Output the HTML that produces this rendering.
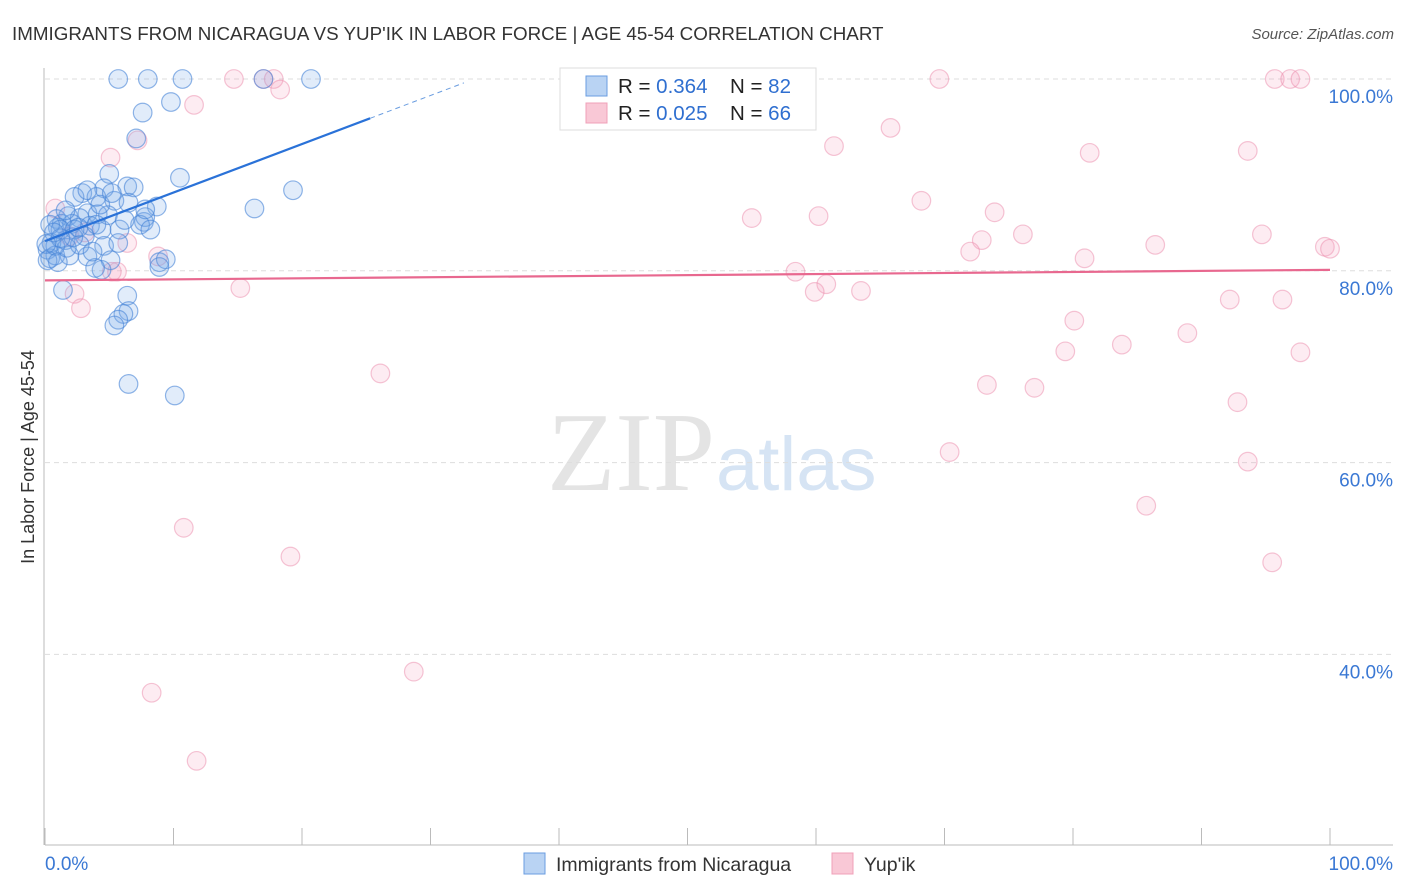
<!DOCTYPE html>
<html><head><meta charset="utf-8"><style>
body{margin:0;background:#fff;width:1406px;height:892px;overflow:hidden;font-family:"Liberation Sans",sans-serif}
svg{position:absolute;left:0;top:0}
</style></head><body>
<svg id="chart" width="1406" height="892">
<text x="12" y="40" font-size="18.8" fill="#333">IMMIGRANTS FROM NICARAGUA VS YUP'IK IN LABOR FORCE | AGE 45-54 CORRELATION CHART</text>
<text x="1394" y="39" font-size="15" fill="#555" font-style="italic" text-anchor="end">Source: ZipAtlas.com</text>
<text x="715" y="490" font-size="112" fill="#e4e4e4" text-anchor="end" font-family="Liberation Serif,serif">ZIP</text>
<text x="716" y="490" font-size="76" fill="#d6e4f4">atlas</text>
<text transform="translate(34,457) rotate(-90)" font-size="18" fill="#333" text-anchor="middle">In Labor Force | Age 45-54</text>
<g id="grid"></g><g id="axes"></g><g id="pts"></g><g id="lines"></g>
<g>
<rect x="560" y="68" width="256" height="62" fill="#fff" stroke="#ddd"/>
<rect x="586" y="76" width="21" height="20" fill="#b9d3f3" stroke="#6a9de0"/>
<rect x="586" y="103" width="21" height="20" fill="#f9c8d6" stroke="#f0a0b8"/>
<text x="618" y="93" font-size="20.5" fill="#222">R = <tspan fill="#2f6fd0">0.364</tspan><tspan x="730">N = </tspan><tspan fill="#2f6fd0">82</tspan></text>
<text x="618" y="120" font-size="20.5" fill="#222">R = <tspan fill="#2f6fd0">0.025</tspan><tspan x="730">N = </tspan><tspan fill="#2f6fd0">66</tspan></text>
</g>
<g>
<rect x="524" y="853" width="21" height="21" fill="#b9d3f3" stroke="#6a9de0"/>
<text x="556" y="871" font-size="19.5" fill="#333">Immigrants from Nicaragua</text>
<rect x="832" y="853" width="21" height="21" fill="#f9c8d6" stroke="#f0a0b8"/>
<text x="864" y="871" font-size="19.5" fill="#333">Yup'ik</text>
</g>
</svg>
<script>
const yTicks=[100,80,60,40];
const yTickLabels=["100.0%","80.0%","60.0%","40.0%"];
const xTicks=[0,10,20,30,40,50,60,70,80,90,100];
const blueX=[5.7,8.0,10.7,17.0,20.7,9.8,7.6,7.1,10.5,19.3,16.3,5.0,6.4,4.6,6.9,2.9,2.3,4.0,5.4,6.5,8.7,3.3,4.1,1.8,0.9,2.7,1.3,2.1,3.5,7.7,5.8,4.4,3.1,1.0,1.6,0.5,0.2,0.4,0.8,1.9,3.3,4.6,5.7,5.1,4.4,8.9,9.4,8.9,1.4,6.4,6.5,6.1,5.7,5.4,6.5,10.1,1.2,2.3,0.2,7.8,0.8,2.7,3.9,4.9,7.4,3.7,1.6,6.2,4.3,0.4,1.0,1.7,2.2,5.2,7.8,3.3,1.2,8.2,0.7,2.6,4.0,0.1];
const blueY=[100,100,100,100,100,97.6,96.5,93.8,89.7,88.4,86.5,90.1,88.8,88.6,88.7,88.1,87.7,87.7,87.3,87.1,86.7,86.0,85.9,85.7,85.4,85.5,84.9,84.9,84.7,85.1,84.3,84.3,83.6,84.5,83.2,82.9,82.2,81.3,81.6,81.6,81.5,82.6,82.9,81.1,80.1,80.9,81.2,80.4,78.0,77.4,75.8,75.5,74.9,74.3,68.2,67.0,84.3,84.3,81.1,85.6,82.6,82.7,80.3,85.8,84.8,82.0,86.3,85.3,86.9,84.8,80.9,82.4,83.5,88.1,86.4,88.4,83.4,84.3,84.0,84.5,84.8,82.8];
const pinkX=[17.0,14.7,17.8,18.3,11.6,5.1,7.2,0.8,3.1,6.4,5.6,5.2,8.8,2.3,2.8,15.2,26.1,10.8,19.1,8.3,28.7,11.8,69.6,95.7,96.9,97.7,65.8,61.4,81.3,93.6,68.2,55.0,60.2,73.9,76.1,72.9,72.0,86.4,94.7,99.6,100,80.9,58.4,60.8,59.9,63.5,92.2,96.3,80.1,79.4,83.8,88.9,97.7,73.3,77.0,92.8,70.4,93.6,85.7,95.5,1.9];
const pinkY=[100,100,100,98.9,97.3,91.8,93.6,86.5,84.0,82.9,79.9,79.9,81.5,77.6,76.1,78.2,69.3,53.2,50.2,36.0,38.2,28.9,100,100,100,100,94.9,93.0,92.3,92.5,87.3,85.5,85.7,86.1,83.8,83.2,82.0,82.7,83.8,82.5,82.3,81.3,79.9,78.6,77.8,77.9,77.0,77.0,74.8,71.6,72.3,73.5,71.5,68.1,67.8,66.3,61.1,60.1,55.5,49.6,83.6];
const blueTrend=[83.1,0.506];
const pinkTrend=[79.0,0.011];
const X=v=>45+v*12.85, Y=v=>79+(100-v)*9.59;
const NS="http://www.w3.org/2000/svg";
function mk(t,a,p){const e=document.createElementNS(NS,t);for(const k in a)e.setAttribute(k,a[k]);p.appendChild(e);return e;}
const grid=document.getElementById('grid'),axes=document.getElementById('axes'),pts=document.getElementById('pts'),lines=document.getElementById('lines');
yTicks.forEach((t,i)=>{
 const l=mk('line',{x1:45,x2:1393,y1:Y(t),y2:Y(t),stroke:'#ddd','stroke-dasharray':'5,4'},grid);
 
 
 const tx=mk('text',{x:1393,y:Y(t)+24,'text-anchor':'end','font-size':19,fill:'#3a78d4'},grid);
 tx.textContent=yTickLabels[i];
 
 
});
const ya=mk('line',{x1:44,x2:44,y1:68,y2:845,stroke:'#bbb'},axes);


const xa=mk('line',{x1:45,x2:1393,y1:845,y2:845,stroke:'#bbb'},axes);


xTicks.forEach(t=>{
 const l=mk('line',{x1:X(t),x2:X(t),y1:828,y2:845,stroke:'#bbb'},axes);
 
 
});
const xl0=mk('text',{x:45,y:870,'font-size':19,fill:'#3a78d4'},axes);xl0.textContent='0.0%';


const xl1=mk('text',{x:1393,y:870,'font-size':19,fill:'#3a78d4','text-anchor':'end'},axes);xl1.textContent='100.0%';


pinkX.forEach((x,i)=>{
 const c=mk('circle',{cx:X(x),cy:Y(pinkY[i]),r:9.3,fill:'rgba(244,160,188,0.2)',stroke:'rgba(236,140,172,0.5)','stroke-width':1.2},pts);
 
 
});
blueX.forEach((x,i)=>{
 const c=mk('circle',{cx:X(x),cy:Y(blueY[i]),r:9.3,fill:'rgba(120,168,232,0.22)',stroke:'rgba(70,132,215,0.6)','stroke-width':1.2},pts);
 
 
});
const b1=mk('line',{x1:X(0),y1:Y(blueTrend[0]),x2:X(25.3),y2:Y(blueTrend[0]+blueTrend[1]*25.3),stroke:'#2a72d8','stroke-width':2.2},lines);


const b2=mk('line',{x1:X(25.3),y1:Y(blueTrend[0]+blueTrend[1]*25.3),x2:X(32.6),y2:Y(blueTrend[0]+blueTrend[1]*32.6),stroke:'#6a9de0','stroke-width':1,'stroke-dasharray':'5,4'},lines);


const p1=mk('line',{x1:X(0),y1:Y(pinkTrend[0]),x2:X(100),y2:Y(pinkTrend[0]+pinkTrend[1]*100),stroke:'#e8688f','stroke-width':2.2},lines);


</script>
</body></html>
